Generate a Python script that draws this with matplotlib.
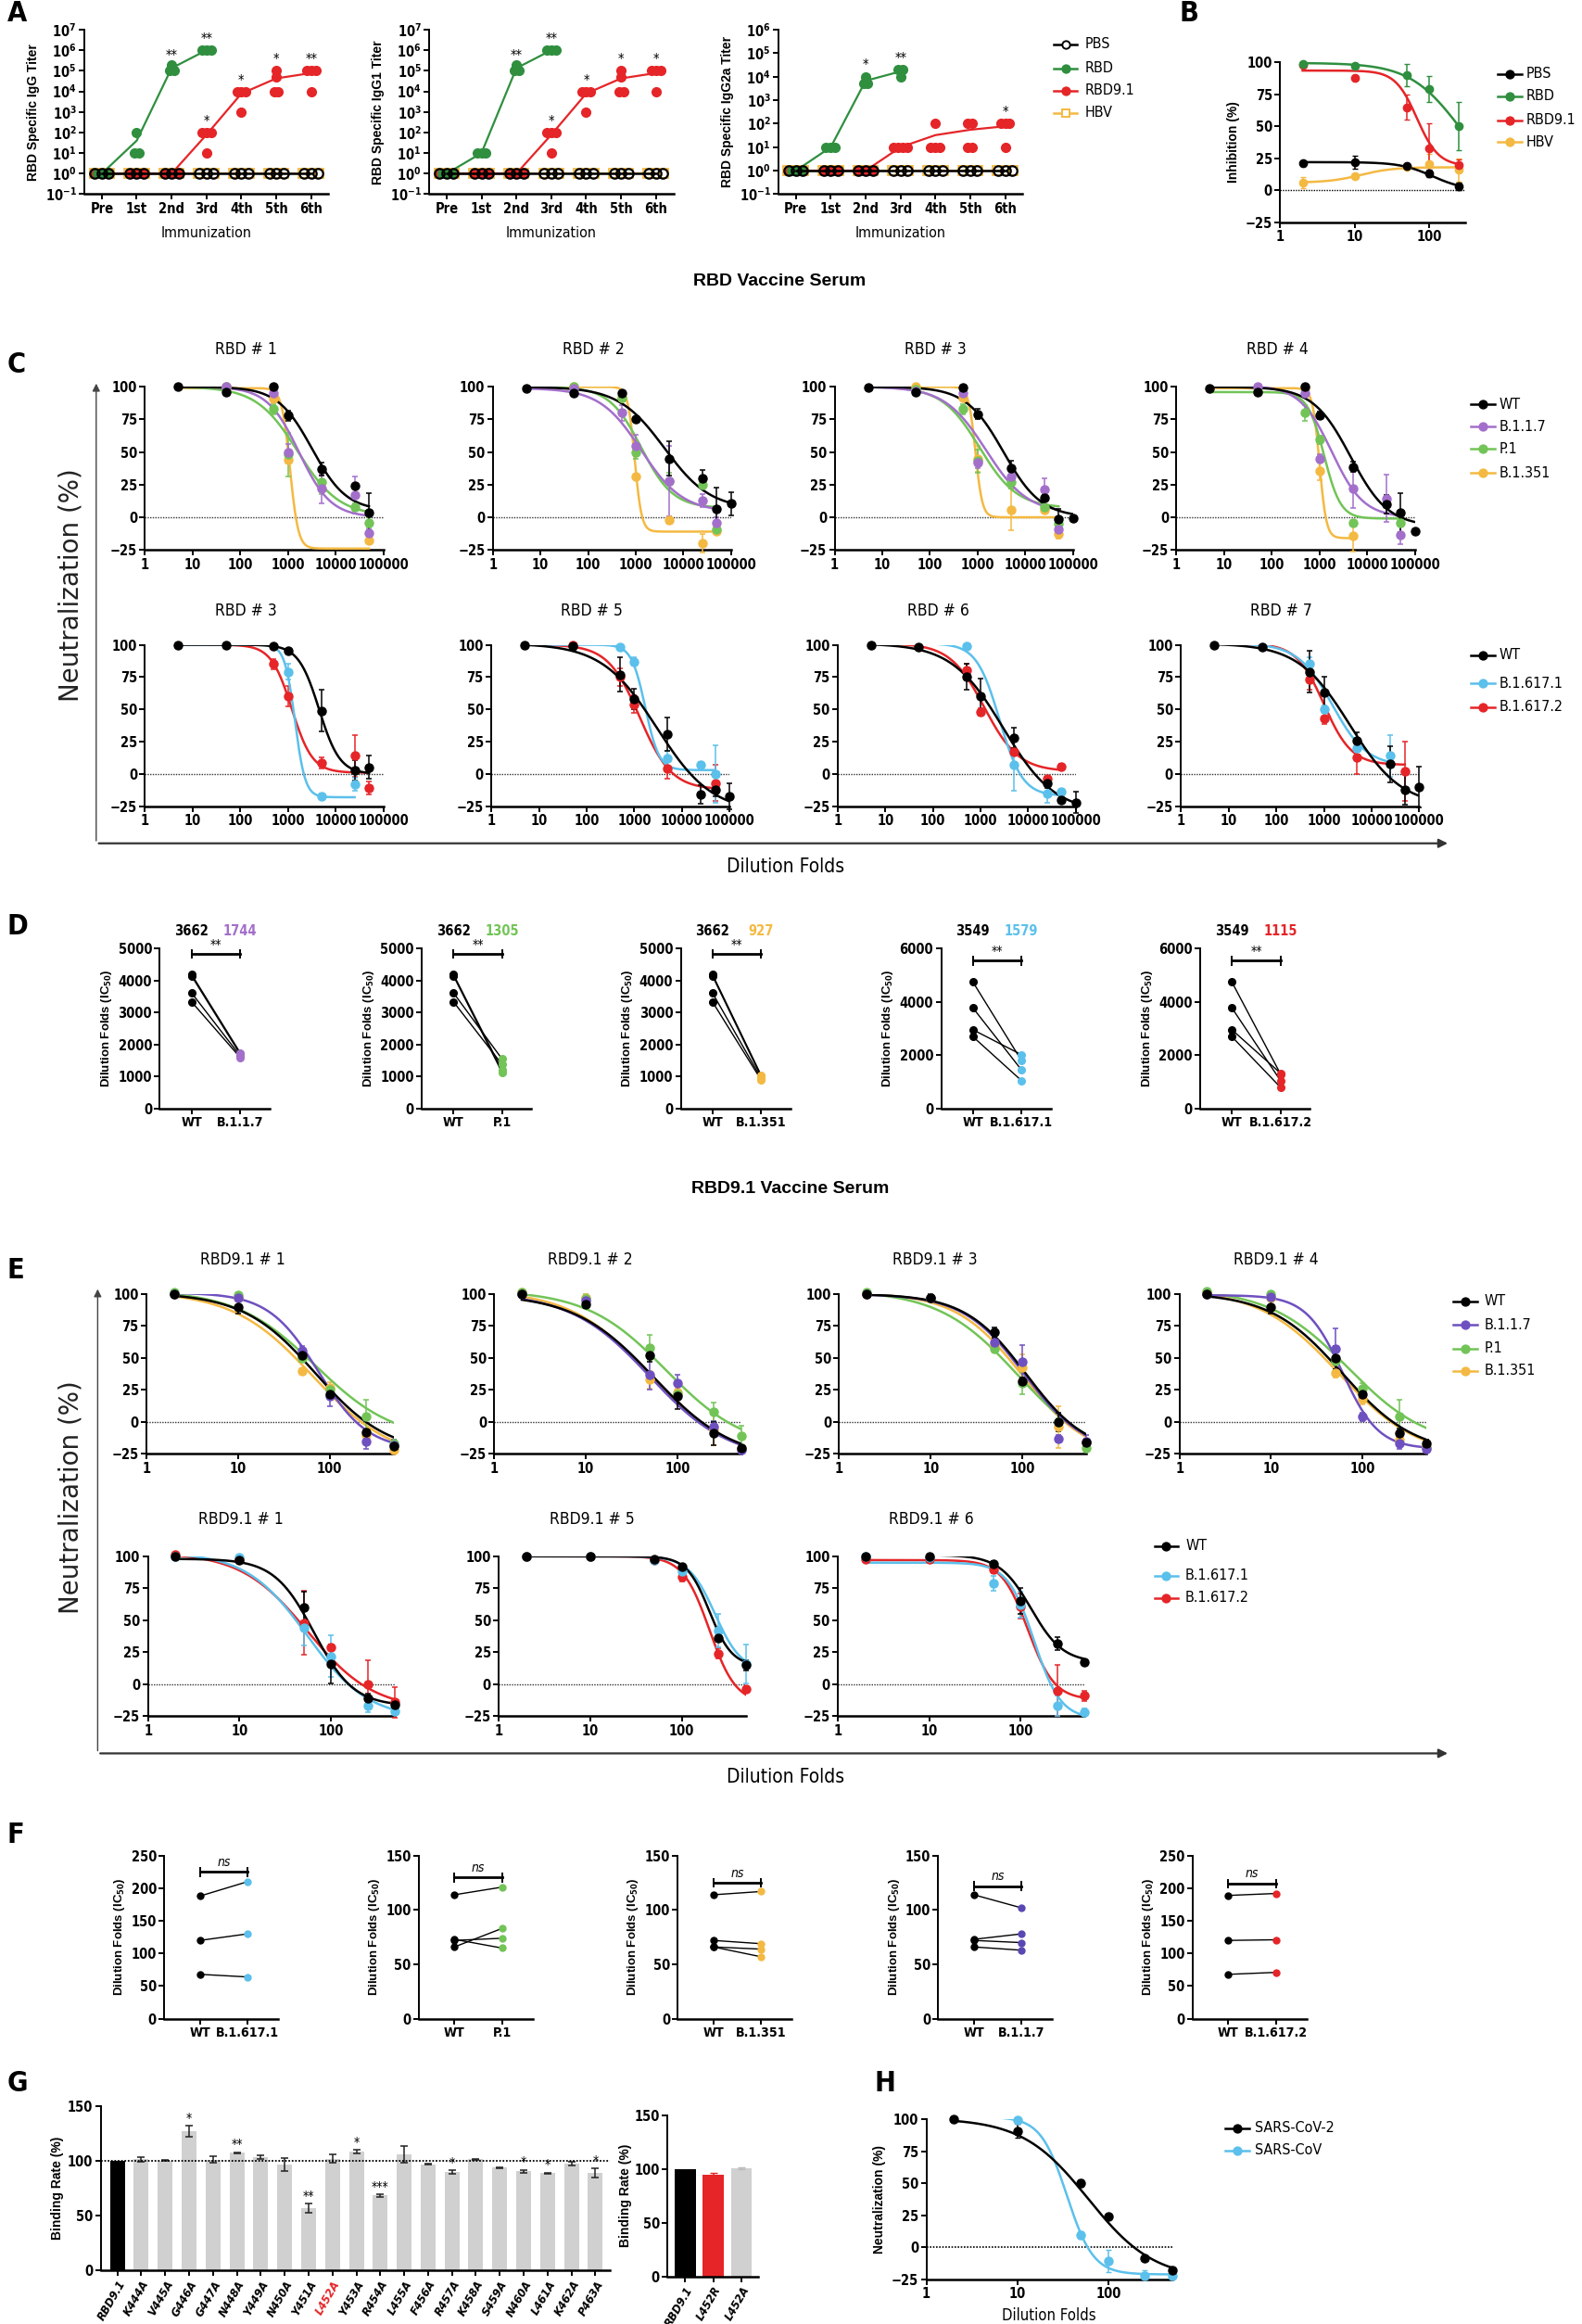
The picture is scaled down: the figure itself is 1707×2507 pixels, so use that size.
import numpy as np
import matplotlib
matplotlib.use("Agg")
import matplotlib.pyplot as plt
from matplotlib.lines import Line2D
from matplotlib.patches import FancyArrowPatch
from matplotlib.ticker import NullLocator

NARROW = ['Liberation Sans Narrow', 'DejaVu Sans']
SANS = ['Liberation Sans', 'DejaVu Sans']
plt.rcParams.update({
    'font.family': NARROW, 'font.weight': 'bold', 'font.stretch': 'condensed',
    'mathtext.fontset': 'custom', 'mathtext.rm': 'Liberation Sans Narrow:bold',
    'mathtext.bf': 'Liberation Sans Narrow:bold', 'mathtext.it': 'Liberation Sans Narrow:bold:italic',
    'mathtext.default': 'rm',
    'axes.linewidth': 1.4, 'xtick.major.width': 1.4, 'ytick.major.width': 1.4,
    'xtick.major.size': 4, 'ytick.major.size': 4, 'xtick.labelsize': 10.5, 'ytick.labelsize': 10.5,
    'xtick.major.pad': 2, 'ytick.major.pad': 2,
})

BLACK = '#000000'; GREEN_A = '#2f8f3f'; RED = '#e52528'; YELLOW = '#f4b942'
PURPLE_C = '#a36fcb'; GREEN_C = '#72c457'; BLUE = '#5bc0eb'; PURPLE_E = '#6f50c0'
PURPLE_F = '#5a48b2'; GRAY = '#d0d0d0'

# ---------------- Panel A data ----------------
A_GROUPS = ['Pre', '1st', '2nd', '3rd', '4th', '5th', '6th']
A_PBS = [[1, 1, 1], [1, 1, 1], [1, 1, 1], [1, 1, 1], [1, 1, 1], [1, 1, 1], [1, 1, 1]]
A_HBV = [[1, 1, 1], [1, 1, 1], [1, 1, 1], [1, 1, 1], [1, 1, 1], [1, 1, 1], [1, 1, 1]]
A1_RBD = [[1, 1, 1], [100, 10, 10], [2e5, 1e5, 1e5], [1e6, 1e6, 1e6]]
A1_RBD91 = [[1, 1, 1, 1], [1, 1, 1, 1], [1, 1, 1, 1], [100, 100, 100, 10],
            [1e4, 1e4, 1e4, 1e3], [5e4, 1e5, 1e4, 1e4], [1e5, 1e5, 1e5, 1e4]]
A1_STARS = [(2, 2.5e5, '**'), (3, 1.5e6, '**'), (3, 1.5e2, '*'), (4, 1.5e4, '*'), (5, 1.5e5, '*'), (6, 1.5e5, '**')]
A2_RBD = [[1, 1, 1], [10, 10, 10], [2e5, 1e5, 1e5], [1e6, 1e6, 1e6]]
A2_RBD91 = [[1, 1, 1, 1], [1, 1, 1, 1], [1, 1, 1, 1], [100, 100, 100, 10],
            [1e4, 1e4, 1e4, 1e3], [5e4, 1e5, 1e4, 1e4], [1e5, 1e5, 1e5, 1e4]]
A2_STARS = [(2, 2.5e5, '**'), (3, 1.5e6, '**'), (3, 1.5e2, '*'), (4, 1.5e4, '*'), (5, 1.5e5, '*'), (6, 1.5e5, '*')]
A3_RBD = [[1, 1, 1], [10, 10, 10], [1e4, 5e3, 5e3], [2e4, 2e4, 1e4]]
A3_RBD91 = [[1, 1, 1, 1], [1, 1, 1, 1], [1, 1, 1, 1], [10, 10, 10, 10],
            [100, 10, 10, 10], [100, 100, 10, 10], [100, 100, 100, 10]]
A3_STARS = [(2, 1.6e4, '*'), (3, 3e4, '**'), (6, 1.5e2, '*')]

# ---------------- Panel B data ----------------
B_X = [2, 10, 50, 100, 250]
B_Y = {'PBS': [21, 22, 19, 13, 3], 'RBD': [99, 97, 90, 79, 50],
       'RBD9.1': [98, 87.5, 65, 33, 20], 'HBV': [6, 11, 18, 20.5, 16]}
B_ERR = {'PBS': [2, 5, 1, 3, 3], 'RBD': [1, 1, 9, 10, 19], 'RBD9.1': [1, 2, 10, 19, 4], 'HBV': [4, 1, 1, 8, 9]}
B_FIT = {'PBS': (22, 0, 110, 2), 'RBD': (99.5, 0, 250, 1.3), 'RBD9.1': (93.5, 19, 68, 3), 'HBV': (6, 18, 12, 2)}

# ---------------- Panel C data (RBD serum) ----------------
C1_X = {'WT': [5, 50, 500, 1000, 5000, 25000, 50000], 'B.1.1.7': [50, 500, 1000, 5000, 25000, 50000],
        'P.1': [50, 500, 1000, 5000, 25000, 50000], 'B.1.351': [50, 500, 1000, 50000]}
C1_Y = {'WT': [100, 96, 100, 78, 37, 24, 3.5], 'B.1.1.7': [100, 95, 50, 22, 17, -12],
        'P.1': [100, 83, 48, 27, 8, -4], 'B.1.351': [100, 91, 44, -18]}
C1_E = {'WT': [1, 1, 1, 4, 5, 1, 15], 'B.1.1.7': [0, 2, 6, 11, 14, 3], 'P.1': [0, 4, 17, 9, 3, 4], 'B.1.351': [0, 2, 3, 2]}
C1_F = {'WT': (100, 5, 3200, 1.2), 'B.1.1.7': (100, 0, 1700, 1.3), 'P.1': (100, 1, 1600, 1.0), 'B.1.351': (99, -24, 1100, 5)}

C2_X = {'WT': [5, 50, 500, 1000, 5000, 25000, 50000, 100000], 'B.1.1.7': [50, 500, 1000, 5000, 25000, 50000],
        'P.1': [50, 500, 1000, 5000, 25000, 50000], 'B.1.351': [50, 500, 1000, 5000, 25000, 50000]}
C2_Y = {'WT': [99, 95, 95, 75, 45, 29.5, 6.5, 10.5], 'B.1.1.7': [99, 80, 55, 28, 13, -4],
        'P.1': [100, 92, 50, 28, 25, -9], 'B.1.351': [100, 92, 31, -2, -20, -11]}
C2_E = {'WT': [1, 1, 1, 1, 13, 7, 16, 9], 'B.1.1.7': [0, 6, 8, 27, 5, 4], 'P.1': [0, 3, 5, 6, 3, 2], 'B.1.351': [0, 2, 1, 3, 7, 1]}
C2_F = {'WT': (100, 6, 4000, 0.9), 'B.1.1.7': (99, 4, 1300, 1.0), 'P.1': (100, 7, 1300, 1.3), 'B.1.351': (100, -11, 950, 6)}

C3_X = {'WT': [5, 50, 500, 1000, 5000, 25000, 50000, 100000], 'B.1.1.7': [50, 500, 1000, 5000, 25000, 50000],
        'P.1': [50, 500, 1000, 5000, 25000, 50000], 'B.1.351': [50, 500, 1000, 5000, 25000, 50000]}
C3_Y = {'WT': [99.5, 96, 99.5, 79, 38, 15, -1.5, -0.5], 'B.1.1.7': [97, 95, 42, 31, 21, -9],
        'P.1': [98, 83, 43, 27, 8, -5], 'B.1.351': [100, 92, 45, 6, 6, -13]}
C3_E = {'WT': [1, 2, 1, 4, 5, 2, 8, 1], 'B.1.1.7': [1, 2, 4, 4, 9, 3], 'P.1': [1, 4, 9, 5, 2, 3], 'B.1.351': [1, 2, 10, 16, 2, 3]}
C3_F = {'WT': (100, 0, 3500, 1.1), 'B.1.1.7': (100, 3, 1500, 1.0), 'P.1': (100, 7, 1100, 1.1), 'B.1.351': (100, 0, 900, 6)}

C4_X = {'WT': [5, 50, 500, 1000, 5000, 25000, 50000, 100000], 'B.1.1.7': [50, 500, 1000, 5000, 25000, 50000],
        'P.1': [50, 500, 1000, 5000, 50000], 'B.1.351': [500, 1000, 5000]}
C4_Y = {'WT': [99, 96, 100, 78, 38.5, 10, 3.5, -11], 'B.1.1.7': [100, 95, 45, 22, 14.5, -13.5],
        'P.1': [97, 80, 59.5, -4, -4], 'B.1.351': [99, 35.5, -14.5]}
C4_E = {'WT': [1, 1, 1, 3, 4, 7, 15, 1], 'B.1.1.7': [1, 2, 3, 15, 18, 7], 'P.1': [1, 6, 3, 2, 3], 'B.1.351': [2, 7, 12]}
C4_F = {'WT': (100, -7, 4500, 1.1), 'B.1.1.7': (101, 0, 1800, 1.3), 'P.1': (96, -1, 1250, 2.5), 'B.1.351': (99, -16, 1000, 6)}

C5_X = {'WT': [5, 50, 500, 1000, 5000, 25000, 50000], 'B.1.617.1': [1000, 5000, 25000],
        'B.1.617.2': [500, 1000, 5000, 25000, 50000]}
C5_Y = {'WT': [100, 100, 99, 95, 49, 3, 5], 'B.1.617.1': [79, -17, -8], 'B.1.617.2': [85, 60, 8.5, 14, -11]}
C5_E = {'WT': [1, 1, 1, 1, 16, 8, 9], 'B.1.617.1': [6, 2, 5], 'B.1.617.2': [4, 8, 4, 16, 5]}
C5_F = {'WT': (100, 0, 4500, 2.0), 'B.1.617.1': (100, -18, 1400, 4), 'B.1.617.2': (100, 1, 1200, 2)}

C6_X = {'WT': [5, 50, 500, 1000, 5000, 25000, 50000, 100000], 'B.1.617.1': [500, 1000, 5000, 25000, 50000],
        'B.1.617.2': [50, 500, 1000, 5000, 50000]}
C6_Y = {'WT': [100, 99, 77, 58, 31, -16, -12.5, -17], 'B.1.617.1': [98, 87, 12, 7, 0], 'B.1.617.2': [100, 75, 54, 4, -7]}
C6_E = {'WT': [1, 1, 13, 8, 13, 7, 5, 10], 'B.1.617.1': [1, 3, 6, 2, 22], 'B.1.617.2': [1, 7, 7, 8, 14]}
C6_F = {'WT': (101, -30, 3000, 0.75), 'B.1.617.1': (100, 3, 1700, 3), 'B.1.617.2': (100, -12, 1300, 1.3)}

C7_X = {'WT': [5, 50, 500, 1000, 5000, 25000, 50000, 100000], 'B.1.617.1': [500, 5000, 25000, 50000],
        'B.1.617.2': [500, 1000, 5000, 25000, 50000]}
C7_Y = {'WT': [100, 98, 75, 60, 28, -7, -20, -22], 'B.1.617.1': [99, 7, -15, -14], 'B.1.617.2': [80, 48, 17, -4, 6]}
C7_E = {'WT': [1, 1, 10, 14, 8, 4, 2, 8], 'B.1.617.1': [1, 20, 7, 2], 'B.1.617.2': [5, 3, 3, 2, 2]}
C7_F = {'WT': (101, -30, 3000, 0.8), 'B.1.617.1': (101, -17, 2500, 1.8), 'B.1.617.2': (101, 2, 1200, 1.2)}

C8_X = {'WT': [5, 50, 500, 1000, 5000, 25000, 50000, 100000], 'B.1.617.1': [500, 1000, 5000, 25000],
        'B.1.617.2': [500, 1000, 5000, 50000]}
C8_Y = {'WT': [100, 98, 79, 63, 26, 7.5, -12, -10], 'B.1.617.1': [85, 50, 20, 14], 'B.1.617.2': [73, 43, 13, 2]}
C8_E = {'WT': [1, 1, 16, 12, 6, 14, 12, 16], 'B.1.617.1': [5, 3, 3, 16], 'B.1.617.2': [8, 4, 13, 23]}
C8_F = {'WT': (101, -25, 3500, 0.8), 'B.1.617.1': (101, 6, 1500, 1.2), 'B.1.617.2': (101, 7, 1000, 1.5)}

# ---------------- Panel D data ----------------
D1_WT = [4200, 4150, 3620, 3340]; D1_V = [1750, 1700, 1650, 1600]
D2_WT = [4200, 4150, 3620, 3340]; D2_V = [1200, 1130, 1550, 1380]
D3_WT = [4200, 4150, 3620, 3340]; D3_V = [1050, 1000, 950, 900]
D4_WT = [4750, 3780, 2960, 2700]; D4_V = [1800, 1450, 2020, 1050]
D5_WT = [4750, 3780, 2960, 2700]; D5_V = [1300, 1050, 1330, 800]
D_MEANS = [('3662', '1744'), ('3662', '1305'), ('3662', '927'), ('3549', '1579'), ('3549', '1115')]

# ---------------- Panel E data (RBD9.1 serum) ----------------
E_X = [2, 10, 50, 100, 250, 500]
E1_Y = {'WT': [100, 90, 52, 22, -8, -19], 'B.1.1.7': [100, 97, 56, 20, -15, -18],
        'P.1': [101, 99, 50, 25, 4, -17], 'B.1.351': [100, 97, 40, 27, -10, -22]}
E1_E = {'WT': [1, 5, 3, 3, 2, 3], 'B.1.1.7': [1, 2, 3, 8, 6, 4], 'P.1': [1, 2, 3, 4, 13, 3], 'B.1.351': [1, 1, 2, 4, 5, 2]}
E1_F = {'WT': (101, -25, 70, 1.1), 'B.1.1.7': (101, -22, 75, 1.6), 'P.1': (103, -15, 70, 1.0), 'B.1.351': (102, -30, 65, 1.0)}
E2_Y = {'WT': [100, 92, 52, 20, -9, -20], 'B.1.1.7': [100, 95, 37, 30, -4, -22],
        'P.1': [101, 96, 58, 22, 8, -11], 'B.1.351': [101, 97, 33, 23, -6, -21]}
E2_E = {'WT': [1, 3, 5, 10, 9, 2], 'B.1.1.7': [1, 3, 12, 7, 5, 3], 'P.1': [1, 4, 10, 3, 7, 8], 'B.1.351': [1, 2, 7, 3, 12, 2]}
E2_F = {'WT': (100, -30, 55, 1.0), 'B.1.1.7': (101, -30, 50, 1.0), 'P.1': (103, -22, 75, 1.0), 'B.1.351': (103, -30, 50, 1.0)}
E3_Y = {'WT': [100, 97, 70, 32, 0, -16], 'B.1.1.7': [100, 97, 62, 47, -13, -15],
        'P.1': [101, 97, 57, 30, 0, -20], 'B.1.351': [100, 97, 60, 43, -4, -16]}
E3_E = {'WT': [1, 3, 4, 3, 7, 3], 'B.1.1.7': [1, 2, 4, 13, 3, 5], 'P.1': [1, 2, 3, 8, 3, 3], 'B.1.351': [1, 1, 3, 10, 16, 3]}
E3_F = {'WT': (100, -25, 110, 1.3), 'B.1.1.7': (100, -25, 105, 1.3), 'P.1': (103, -30, 90, 1.0), 'B.1.351': (101, -28, 100, 1.2)}
E4_Y = {'WT': [100, 90, 50, 22, -9, -17], 'B.1.1.7': [100, 98, 57, 4, -17, -21],
        'P.1': [102, 100, 48, 26, 4, -20], 'B.1.351': [101, 97, 38, 18, -14, -19]}
E4_E = {'WT': [1, 5, 9, 3, 4, 3], 'B.1.1.7': [1, 2, 16, 3, 4, 2], 'P.1': [1, 2, 3, 4, 13, 3], 'B.1.351': [1, 2, 3, 4, 4, 3]}
E4_F = {'WT': (101, -25, 60, 1.1), 'B.1.1.7': (99, -21, 60, 2.2), 'P.1': (104, -20, 70, 1.0), 'B.1.351': (104, -28, 55, 1.0)}
E5_Y = {'WT': [100, 97, 60, 16, -11, -16], 'B.1.617.1': [100, 99, 44, 22, -17, -21], 'B.1.617.2': [101, 98, 48, 29, 0, -14]}
E5_E = {'WT': [1, 2, 12, 15, 4, 3], 'B.1.617.1': [1, 1, 14, 16, 5, 2], 'B.1.617.2': [1, 1, 25, 2, 19, 12]}
E5_F = {'WT': (98, -17, 65, 2.0), 'B.1.617.1': (103, -27, 55, 1.3), 'B.1.617.2': (103, -20, 55, 1.2)}
E6_Y = {'WT': [100, 100, 98, 92, 36, 15], 'B.1.617.1': [100, 100, 97, 88, 42, 16], 'B.1.617.2': [100, 100, 97, 84, 24, -4]}
E6_E = {'WT': [1, 1, 1, 2, 3, 4], 'B.1.617.1': [1, 1, 2, 3, 13, 15], 'B.1.617.2': [1, 1, 2, 4, 4, 2]}
E6_F = {'WT': (100, 14, 200, 3.5), 'B.1.617.1': (100, 10, 230, 3), 'B.1.617.2': (100, -15, 200, 3)}
E7_Y = {'WT': [100, 100, 94, 65, 32, 17], 'B.1.617.1': [100, 99, 79, 62, -17, -22], 'B.1.617.2': [98, 98, 90, 61, -5, -9]}
E7_E = {'WT': [1, 1, 2, 10, 5, 2], 'B.1.617.1': [1, 1, 6, 10, 8, 3], 'B.1.617.2': [1, 1, 3, 10, 20, 4]}
E7_F = {'WT': (101, 17, 130, 2.5), 'B.1.617.1': (95, -27, 140, 3), 'B.1.617.2': (97, -12, 120, 3)}

# ---------------- Panel F data ----------------
F1_WT = [188, 120, 68]; F1_V = [210, 130, 64]
F2_WT = [114, 66, 73, 72]; F2_V = [121, 83, 65, 74]
F3_WT = [114, 72, 66, 66]; F3_V = [117, 69, 64, 57]
F4_WT = [114, 73, 66, 72]; F4_V = [102, 78, 63, 70]
F5_WT = [189, 120, 68]; F5_V = [192, 121, 71]

# ---------------- Panel G data ----------------
G_LABELS = ['RBD9.1', 'K444A', 'V445A', 'G446A', 'G447A', 'N448A', 'Y449A', 'N450A', 'Y451A', 'L452A', 'Y453A',
            'R454A', 'L455A', 'F456A', 'R457A', 'K458A', 'S459A', 'N460A', 'L461A', 'K462A', 'P463A']
G_VALUES = [100, 101.5, 100.5, 127, 101, 107.5, 103.5, 97, 57, 102, 108.5, 68.5, 106, 97, 90, 101.5, 94, 90.5, 89, 97.5, 89]
G_ERR = [0, 2, 0.4, 5, 3, 0.5, 2, 6, 4, 4, 2, 1, 7.5, 0.5, 1.5, 0.5, 0.3, 1.5, 0.5, 1.5, 4]
G_STARS = ['', '', '', '*', '', '**', '', '', '**', '', '*', '***', '', '', '*', '', '', '*', '*', '', '*']
G2_LABELS = ['RBD9.1', 'L452R', 'L452A']
G2_VALUES = [100, 94.5, 100.5]
G2_ERR = [0, 2, 0.5]

# ---------------- Panel H data ----------------
H_X = {'SARS-CoV-2': [2, 10, 50, 100, 250, 500], 'SARS-CoV': [10, 50, 100, 250, 500]}
H_Y = {'SARS-CoV-2': [100, 91, 50.5, 24, -8.5, -17.5], 'SARS-CoV': [99.5, 10, -10.5, -22, -22]}
H_E = {'SARS-CoV-2': [1, 5.5, 3, 1, 1, 3], 'SARS-CoV': [1, 3, 9, 4, 2]}
H_F = {'SARS-CoV-2': (101, -25, 60, 1.2), 'SARS-CoV': (102, -21, 35, 3)}

# =====================================================================
W, H = 1069.0, 1568.0
fig = plt.figure(figsize=(17.07, 25.07), dpi=100)


def box(x0, y0, x1, y1):
    return fig.add_axes([x0 / W, 1 - y1 / H, (x1 - x0) / W, (y1 - y0) / H])


def ftext(x, y, s, **kw):
    return fig.text(x / W, 1 - y / H, s, **kw)


def style(ax):
    for s in ['top', 'right']:
        ax.spines[s].set_visible(False)
    ax.spines['left'].set_linewidth(1.4)
    ax.spines['bottom'].set_linewidth(1.8)
    ax.tick_params(direction='out', length=4, width=1.4)
    ax.patch.set_alpha(0)


def fourpl(x, top, bottom, ic50, hill):
    return bottom + (top - bottom) / (1.0 + (x / ic50) ** hill)


def legend_entries(xm, xt, ys, colors, labels, fs=11.5, markers=None, open_=None):
    for i, (y, c, lab) in enumerate(zip(ys, colors, labels)):
        yy = 1 - y / H
        fig.add_artist(Line2D([(xm - 8) / W, (xm + 8) / W], [yy, yy], color=c, lw=1.8,
                              transform=fig.transFigure))
        mk = markers[i] if markers else 'o'
        op = open_[i] if open_ else False
        fig.add_artist(Line2D([xm / W], [yy], marker=mk, ms=6, color=c, mfc='white' if op else c,
                              mew=1.4, linestyle='none', transform=fig.transFigure))
        ftext(xt, y, lab, va='center', ha='left', fontsize=fs, fontweight='normal')


def spread(vals, step):
    vals = np.asarray(vals, float)
    off = np.zeros(len(vals))
    for v in np.unique(vals):
        idx = np.where(vals == v)[0]
        k = len(idx)
        off[idx] = (np.arange(k) - (k - 1) / 2.0) * step
    return off


# ---------------- Panel A ----------------
def panel_a(ax, rbd, rbd91, stars, ymax, ylabel):
    n = len(A_GROUPS)
    for g, v in enumerate(A_HBV):
        ax.plot(g + spread(v, 0.22), v, 's', mfc='none', mec=YELLOW, ms=7, mew=1.3, clip_on=False, zorder=2)
    ax.plot(range(n), [np.mean(v) for v in A_HBV], color=YELLOW, lw=1.5, zorder=1)
    for g, v in enumerate(rbd91):
        ax.plot(g + spread(v, 0.13), v, 'o', color=RED, ms=7, zorder=3, clip_on=False)
    ax.plot(range(len(rbd91)), [np.mean(v) for v in rbd91], color=RED, lw=1.6, zorder=3)
    for g, v in enumerate(rbd):
        ax.plot(g + spread(v, 0.13), v, 'o', color=GREEN_A, ms=7, zorder=3, clip_on=False)
    ax.plot(range(len(rbd)), [np.mean(v) for v in rbd], color=GREEN_A, lw=1.6, zorder=3)
    for g, v in enumerate(A_PBS):
        ax.plot(g + spread(v, 0.2), v, 'o', mfc='none', mec='k', ms=7.5, mew=1.6, zorder=5, clip_on=False)
    ax.plot(range(n), [np.mean(v) for v in A_PBS], color='k', lw=1.8, zorder=4)
    for g, y, s in stars:
        ax.text(g, y, s, ha='center', va='bottom', fontsize=10.5, fontweight='normal')
    ax.set_yscale('log')
    ax.set_ylim(0.1, 10.0 ** ymax)
    ax.set_yticks([10.0 ** k for k in range(-1, ymax + 1)])
    ax.set_yticklabels([r'$10^{%d}$' % k for k in range(-1, ymax + 1)])
    ax.yaxis.set_minor_locator(NullLocator())
    ax.set_xlim(-0.5, 6.5)
    ax.set_xticks(range(n))
    ax.set_xticklabels(A_GROUPS)
    ax.set_xlabel('Immunization', fontsize=11.5, fontweight='normal', labelpad=8)
    ax.set_ylabel(ylabel, fontsize=10, family=SANS, fontweight='bold', labelpad=4)
    style(ax)


axA1 = box(57, 20, 222, 131); panel_a(axA1, A1_RBD, A1_RBD91, A1_STARS, 7, 'RBD Specific IgG Titer')
axA2 = box(290, 20, 455, 131); panel_a(axA2, A2_RBD, A2_RBD91, A2_STARS, 7, 'RBD Specific IgG1 Titer')
axA3 = box(526, 20, 691, 131); panel_a(axA3, A3_RBD, A3_RBD91, A3_STARS, 6, 'RBD Specific IgG2a Titer')
legend_entries(720, 733, [30, 46, 61, 76], ['k', GREEN_A, RED, YELLOW], ['PBS', 'RBD', 'RBD9.1', 'HBV'],
               markers=['o', 'o', 'o', 's'], open_=[True, False, False, True])

# ---------------- Panel B ----------------
axB = box(865, 42, 990, 150)
B_COL = {'PBS': 'k', 'RBD': GREEN_A, 'RBD9.1': RED, 'HBV': YELLOW}
for name in ['HBV', 'RBD9.1', 'RBD', 'PBS']:
    c = B_COL[name]
    xc = np.logspace(np.log10(2), np.log10(250), 300)
    axB.plot(xc, fourpl(xc, *B_FIT[name]), color=c, lw=1.8, zorder=3)
    axB.errorbar(B_X, B_Y[name], yerr=B_ERR[name], fmt='none', ecolor=c, elinewidth=1.1, capsize=2.5, zorder=3)
    axB.plot(B_X, B_Y[name], 'o', color=c, ms=6, zorder=4, clip_on=False)
axB.plot([1, 300], [0, 0], ls=(0, (1, 1)), color='k', lw=1)
axB.set_xscale('log'); axB.set_xlim(1, 300); axB.set_ylim(-25, 100)
axB.set_xticks([1, 10, 100]); axB.set_xticklabels(['1', '10', '100'])
axB.xaxis.set_minor_locator(NullLocator())
axB.set_yticks([-25, 0, 25, 50, 75, 100])
axB.set_ylabel('Inhibition (%)', fontsize=10, family=SANS, fontweight='bold', labelpad=4)
style(axB)
legend_entries(1020, 1031, [50, 65, 81, 96], ['k', GREEN_A, RED, YELLOW], ['PBS', 'RBD', 'RBD9.1', 'HBV'])

# ---------------- neutralization helper ----------------
def neut(ax, X, Y, E, F, colors, xlim, xticks, xmin_curve):
    names = list(Y.keys())[::-1]
    for name in names:
        c = colors[name]
        x = np.array(X[name], float); y = np.array(Y[name], float); e = np.array(E[name], float)
        xc = np.logspace(np.log10(xmin_curve), np.log10(x.max()), 300)
        ax.plot(xc, fourpl(xc, *F[name]), color=c, lw=1.8, zorder=3)
        ax.errorbar(x, y, yerr=e, fmt='none', ecolor=c, elinewidth=1.1, capsize=2.5, capthick=1.1,
                    zorder=3, clip_on=False)
        ax.plot(x, y, 'o', color=c, ms=6.5, zorder=4, clip_on=False)
    ax.plot(xlim, [0, 0], ls=(0, (1, 1)), color='#333333', lw=1)
    ax.set_xscale('log'); ax.set_xlim(*xlim); ax.set_ylim(-25, 100)
    ax.set_xticks(xticks); ax.set_xticklabels([str(int(t)) for t in xticks])
    ax.xaxis.set_minor_locator(NullLocator())
    ax.set_yticks([-25, 0, 25, 50, 75, 100])
    style(ax)


C_COL1 = {'WT': 'k', 'B.1.1.7': PURPLE_C, 'P.1': GREEN_C, 'B.1.351': YELLOW}
C_COL2 = {'WT': 'k', 'B.1.617.1': BLUE, 'B.1.617.2': RED}
C_XT = [1, 10, 100, 1000, 10000, 100000]
C_W = 161
for x0, X, Y, E, F, title in [(98, C1_X, C1_Y, C1_E, C1_F, 'RBD # 1'), (333, C2_X, C2_Y, C2_E, C2_F, 'RBD # 2'),
                              (564, C3_X, C3_Y, C3_E, C3_F, 'RBD # 3'), (795, C4_X, C4_Y, C4_E, C4_F, 'RBD # 4')]:
    ax = box(x0, 261, x0 + C_W, 371)
    neut(ax, X, Y, E, F, C_COL1, (1, 100000), C_XT, 5)
    ftext(x0 + 68, 236, title, ha='center', va='center', fontsize=12.5, fontweight='normal')
for x0, X, Y, E, F, title in [(98, C5_X, C5_Y, C5_E, C5_F, 'RBD # 3'), (332, C6_X, C6_Y, C6_E, C6_F, 'RBD # 5'),
                              (566, C7_X, C7_Y, C7_E, C7_F, 'RBD # 6'), (798, C8_X, C8_Y, C8_E, C8_F, 'RBD # 7')]:
    ax = box(x0, 435, x0 + C_W, 544)
    neut(ax, X, Y, E, F, C_COL2, (1, 100000), C_XT, 5)
    ftext(x0 + 68, 412, title, ha='center', va='center', fontsize=12.5, fontweight='normal')
legend_entries(1002, 1013, [273, 288, 303, 319], ['k', PURPLE_C, GREEN_C, YELLOW], ['WT', 'B.1.1.7', 'P.1', 'B.1.351'])
legend_entries(1002, 1013, [442, 461, 477], ['k', BLUE, RED], ['WT', 'B.1.617.1', 'B.1.617.2'])


def big_axes(xv, ytop, ybot, xright, ylab_y, xlab_y):
    fig.add_artist(FancyArrowPatch((xv / W, 1 - ybot / H), (xv / W, 1 - ytop / H), transform=fig.transFigure,
                                   arrowstyle='-|>', mutation_scale=12, lw=1.0, color='#444444'))
    fig.add_artist(FancyArrowPatch((xv / W, 1 - ybot / H), (xright / W, 1 - ybot / H), transform=fig.transFigure,
                                   arrowstyle='-|>', mutation_scale=14, lw=1.6, color='#333333'))
    ftext(48, ylab_y, 'Neutralization (%)', rotation=90, ha='center', va='center', fontsize=20,
          family=['DejaVu Sans'], fontweight='normal', fontstretch='normal', color='#222222')
    ftext(531, xlab_y, 'Dilution Folds', ha='center', va='center', fontsize=15, fontweight='normal')


big_axes(65, 257, 569, 980, 395, 585)
ftext(527, 190, 'RBD Vaccine Serum', ha='center', va='center', fontsize=14, family=SANS, fontweight='bold')

# ---------------- Panel D / F helper ----------------
def paired(ax, wt, var, color, ymax, ystep, vlabel, bar_y, sig, italic=False, ms=5.5):
    for a, b in zip(wt, var):
        ax.plot([0, 1], [a, b], color='k', lw=1.0, zorder=2)
    ax.plot(np.zeros(len(wt)), wt, 'o', color='k', ms=ms, zorder=3, clip_on=False)
    ax.plot(np.ones(len(var)), var, 'o', color=color, ms=ms, zorder=3, clip_on=False)
    ax.set_xlim(-0.65, 1.6); ax.set_ylim(0, ymax)
    ax.set_xticks([0, 1]); ax.set_xticklabels(['WT', vlabel])
    ax.tick_params(axis='x', labelsize=10.2)
    ax.set_yticks(np.arange(0, ymax + 1, ystep))
    d = ymax * 0.025
    ax.plot([0, 1], [bar_y, bar_y], color='k', lw=2, clip_on=False)
    ax.plot([0, 0], [bar_y - d, bar_y + d], color='k', lw=1.4, clip_on=False)
    ax.plot([1, 1], [bar_y - d, bar_y + d], color='k', lw=1.4, clip_on=False)
    ax.text(0.5, bar_y + d * 0.8, sig, ha='center', va='bottom', fontsize=10,
            fontweight='normal', style='italic' if italic else 'normal')
    ax.set_ylabel('Dilution Folds (IC$_{50}$)', fontsize=9.5, family=SANS, fontweight='bold', labelpad=3)
    style(ax)


D_SPEC = [(108, D1_WT, D1_V, PURPLE_C, 5000, 1000, 'B.1.1.7', 4830),
          (285, D2_WT, D2_V, GREEN_C, 5000, 1000, 'P.1', 4830),
          (460, D3_WT, D3_V, YELLOW, 5000, 1000, 'B.1.351', 4830),
          (636, D4_WT, D4_V, BLUE, 6000, 2000, 'B.1.617.1', 5550),
          (811, D5_WT, D5_V, RED, 6000, 2000, 'B.1.617.2', 5550)]
for (x0, wt, var, col, ymax, ystep, vl, by), (m1, m2) in zip(D_SPEC, D_MEANS):
    ax = box(x0, 640, x0 + 74, 748)
    paired(ax, wt, var, col, ymax, ystep, vl, by, '**')
    tr = ax.get_xaxis_transform()
    ax.text(0, 1.11, m1, transform=tr, ha='center', va='center', fontsize=10.5, color='k', clip_on=False)
    ax.text(1, 1.11, m2, transform=tr, ha='center', va='center', fontsize=10.5, color=col, clip_on=False)

ftext(534, 802, 'RBD9.1 Vaccine Serum', ha='center', va='center', fontsize=14, family=SANS, fontweight='bold')

# ---------------- Panel E ----------------
E_COL1 = {'WT': 'k', 'B.1.1.7': PURPLE_E, 'P.1': GREEN_C, 'B.1.351': YELLOW}
E_W = 167
for x0, Y, E, F, title in [(99, E1_Y, E1_E, E1_F, 'RBD9.1 # 1'), (334, E2_Y, E2_E, E2_F, 'RBD9.1 # 2'),
                           (567, E3_Y, E3_E, E3_F, 'RBD9.1 # 3'), (797, E4_Y, E4_E, E4_F, 'RBD9.1 # 4')]:
    ax = box(x0, 873, x0 + E_W, 981)
    X = {k: E_X for k in Y}
    neut(ax, X, Y, E, F, E_COL1, (1, 500), [1, 10, 100], 2)
    ftext(x0 + 65, 850, title, ha='center', va='center', fontsize=12.5, fontweight='normal')
for x0, Y, E, F, title in [(100, E5_Y, E5_E, E5_F, 'RBD9.1 # 1'), (337, E6_Y, E6_E, E6_F, 'RBD9.1 # 5'),
                           (566, E7_Y, E7_E, E7_F, 'RBD9.1 # 6')]:
    ax = box(x0, 1050, x0 + E_W, 1158)
    X = {k: E_X for k in Y}
    neut(ax, X, Y, E, F, C_COL2, (1, 500), [1, 10, 100], 2)
    ftext(x0 + 63, 1025, title, ha='center', va='center', fontsize=12.5, fontweight='normal')
legend_entries(990, 1003, [878, 894, 910, 925], ['k', PURPLE_E, GREEN_C, YELLOW], ['WT', 'B.1.1.7', 'P.1', 'B.1.351'])
legend_entries(788, 801, [1043, 1063, 1078], ['k', BLUE, RED], ['WT', 'B.1.617.1', 'B.1.617.2'])
big_axes(66, 868, 1183, 980, 1010, 1199)

# ---------------- Panel F ----------------
F_SPEC = [(111, F1_WT, F1_V, BLUE, 250, 50, 'B.1.617.1', 225),
          (283, F2_WT, F2_V, GREEN_C, 150, 50, 'P.1', 130),
          (458, F3_WT, F3_V, YELLOW, 150, 50, 'B.1.351', 125),
          (634, F4_WT, F4_V, PURPLE_F, 150, 50, 'B.1.1.7', 122),
          (806, F5_WT, F5_V, RED, 250, 50, 'B.1.617.2', 207)]
for x0, wt, var, col, ymax, ystep, vl, by in F_SPEC:
    ax = box(x0, 1252, x0 + 77, 1362)
    paired(ax, wt, var, col, ymax, ystep, vl, by, 'ns', italic=True, ms=5)
    ax.set_xlim(-0.75, 1.65)

# ---------------- Panel G ----------------
axG = box(68, 1421, 412, 1532)
gx = np.arange(len(G_LABELS))
axG.bar(gx, G_VALUES, width=0.62, color=['k'] + [GRAY] * (len(G_LABELS) - 1), zorder=2)
axG.errorbar(gx[1:], G_VALUES[1:], yerr=G_ERR[1:], fmt='none', ecolor='#222222', elinewidth=1.1,
             capsize=3, capthick=1.1, zorder=3)
for i, (v, e, s) in enumerate(zip(G_VALUES, G_ERR, G_STARS)):
    if s:
        axG.text(i, v + e + 1, s, ha='center', va='bottom', fontsize=10, fontweight='normal')
axG.plot([-0.7, 20.6], [100, 100], ls=(0, (1, 1)), color='k', lw=1.3, zorder=4)
axG.set_xlim(-0.7, 20.6); axG.set_ylim(0, 150)
axG.set_yticks([0, 50, 100, 150])
axG.set_xticks(gx)
axG.set_xticklabels(G_LABELS, rotation=60, ha='right', rotation_mode='anchor', style='italic', fontsize=9.3)
axG.get_xticklabels()[G_LABELS.index('L452A')].set_color(RED)
axG.set_ylabel('Binding Rate (%)', fontsize=10, family=SANS, fontweight='bold', labelpad=3)
style(axG)

axG2 = box(451, 1427, 512, 1536)
g2x = np.arange(len(G2_LABELS))
axG2.bar(g2x, G2_VALUES, width=0.75, color=['k', RED, GRAY], zorder=2)
axG2.errorbar([g2x[1]], [G2_VALUES[1]], yerr=[G2_ERR[1]], fmt='none', ecolor=RED,
              elinewidth=1.1, capsize=3, zorder=3)
axG2.errorbar([g2x[2]], [G2_VALUES[2]], yerr=[G2_ERR[2]], fmt='none', ecolor='#bbbbbb',
              elinewidth=1.1, capsize=3, zorder=3)
axG2.set_xlim(-0.63, 2.58); axG2.set_ylim(0, 150)
axG2.set_yticks([0, 50, 100, 150])
axG2.set_xticks(g2x)
axG2.set_xticklabels(G2_LABELS, rotation=60, ha='right', rotation_mode='anchor', style='italic', fontsize=9.3)
axG2.set_ylabel('Binding Rate (%)', fontsize=10, family=SANS, fontweight='bold', labelpad=2)
style(axG2)

# ---------------- Panel H ----------------
axH = box(626, 1430, 792, 1538)
H_COL = {'SARS-CoV-2': 'k', 'SARS-CoV': BLUE}
for name in ['SARS-CoV', 'SARS-CoV-2']:
    c = H_COL[name]
    x = np.array(H_X[name], float)
    xc = np.logspace(np.log10(2), np.log10(500), 300)
    axH.plot(xc, fourpl(xc, *H_F[name]), color=c, lw=1.8, zorder=3)
    axH.errorbar(x, H_Y[name], yerr=H_E[name], fmt='none', ecolor=c, elinewidth=1.1, capsize=2.5, zorder=3)
    axH.plot(x, H_Y[name], 'o', color=c, ms=6.5, zorder=4, clip_on=False)
axH.plot([1, 500], [0, 0], ls=(0, (1, 1)), color='k', lw=1.2)
axH.set_xscale('log'); axH.set_xlim(1, 500); axH.set_ylim(-25, 100)
axH.set_xticks([1, 10, 100]); axH.set_xticklabels(['1', '10', '100'])
axH.xaxis.set_minor_locator(NullLocator())
axH.set_yticks([-25, 0, 25, 50, 75, 100])
axH.set_ylabel('Neutralization (%)', fontsize=10, family=SANS, fontweight='bold', labelpad=4)
axH.set_xlabel('Dilution Folds', fontsize=12, labelpad=5)
style(axH)
legend_entries(836, 848, [1436, 1451], ['k', BLUE], ['SARS-CoV-2', 'SARS-CoV'])

# ---------------- panel letters ----------------
for L, x, y in [('A', 5, 9), ('B', 797, 9), ('C', 5, 246), ('D', 5, 625), ('E', 5, 857),
                ('F', 5, 1238), ('G', 5, 1406), ('H', 591, 1406)]:
    ftext(x, y, L, ha='left', va='center', fontsize=22, fontweight='bold')

fig.savefig('out.png', dpi=100)
